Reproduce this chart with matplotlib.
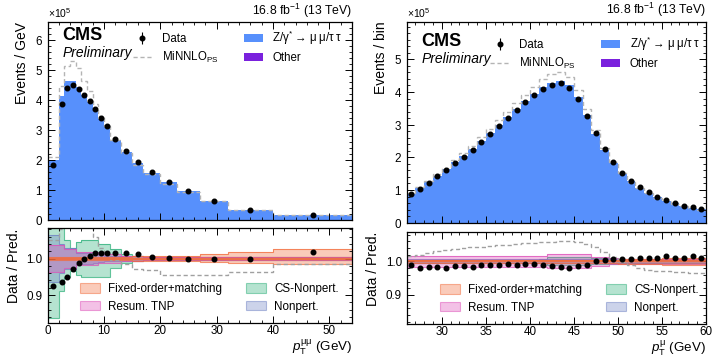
"""
CMS-style pT distributions (dimuon and single muon) with ratio panels.
"""
import numpy as np
import matplotlib
matplotlib.use("Agg")
import matplotlib.pyplot as plt
import matplotlib.ticker as mticker
from matplotlib.patches import Patch
from matplotlib.lines import Line2D

plt.rcParams["font.family"] = ["Liberation Sans", "DejaVu Sans"]
plt.rcParams["mathtext.fontset"] = "custom"
plt.rcParams["mathtext.rm"] = "Liberation Sans"
plt.rcParams["mathtext.it"] = "Liberation Sans:italic"
plt.rcParams["mathtext.bf"] = "Liberation Sans:bold"

# ----------------------------------------------------------------------
# Data: left panel, pT(mumu)
# ----------------------------------------------------------------------
edges_ll = [0, 2, 3, 4, 5, 6, 7, 8, 9, 10, 11, 13, 15, 17, 20, 23, 27, 32, 40, 54]
pred_ll = [1.99e5, 4.15e5, 4.63e5, 4.65e5, 4.44e5, 4.18e5, 3.94e5, 3.66e5, 3.36e5,
           3.10e5, 2.68e5, 2.26e5, 1.91e5, 1.58e5, 1.27e5, 0.97e5, 0.65e5, 0.35e5, 0.155e5]
ratio_ll = [0.925, 0.935, 0.950, 0.972, 0.987, 1.000, 1.006, 1.014, 1.014, 1.014,
            1.015, 1.014, 1.012, 1.005, 1.001, 0.999, 0.998, 0.998, 1.018]
minnlo_ll = [1.050, 1.080, 1.110, 1.140, 1.140, 1.110, 1.090, 1.060, 1.030, 1.010,
             0.995, 0.985, 0.970, 0.968, 0.955, 0.955, 0.955, 0.963, 0.985]
# uncertainty bands (up / down half widths)
fo_up_ll = [0.004, 0.004, 0.004, 0.004, 0.004, 0.004, 0.004, 0.004, 0.004, 0.004,
            0.005, 0.005, 0.006, 0.006, 0.006, 0.006, 0.011, 0.018, 0.025]
fo_dn_ll = [0.004, 0.004, 0.004, 0.004, 0.004, 0.004, 0.004, 0.004, 0.004, 0.004,
            0.005, 0.005, 0.006, 0.006, 0.006, 0.007, 0.009, 0.012, 0.015]
tnp_ll = [0.036, 0.036, 0.025, 0.025, 0.019, 0.019, 0.019, 0.019, 0.012, 0.012,
          0.012, 0.007, 0.007, 0.005, 0.004, 0.004, 0.004, 0.004, 0.004]
cs_up_ll = [0.170, 0.170, 0.050, 0.030, 0.045, 0.050, 0.050, 0.050, 0.040, 0.040,
            0.025, 0.013, 0.008, 0.005, 0.004, 0.003, 0.003, 0.003, 0.003]
cs_dn_ll = [0.162, 0.090, 0.050, 0.035, 0.045, 0.050, 0.050, 0.050, 0.050, 0.050,
            0.025, 0.013, 0.008, 0.005, 0.004, 0.003, 0.003, 0.003, 0.003]
np_ll = [0.064, 0.040, 0.030, 0.030, 0.015, 0.015, 0.015, 0.012, 0.010, 0.008,
         0.008, 0.006, 0.006, 0.005, 0.005, 0.005, 0.005, 0.005, 0.005]

# ----------------------------------------------------------------------
# Data: right panel, pT(mu), 1 GeV bins from 26 to 60
# ----------------------------------------------------------------------
edges_mu = np.arange(26, 61)
pred_mu = [0.891e5, 1.061e5, 1.242e5, 1.443e5, 1.631e5, 1.846e5, 2.051e5, 2.261e5,
           2.497e5, 2.730e5, 2.990e5, 3.236e5, 3.492e5, 3.710e5, 3.942e5, 4.146e5,
           4.284e5, 4.344e5, 4.200e5, 3.838e5, 3.303e5, 2.727e5, 2.229e5, 1.835e5,
           1.518e5, 1.271e5, 1.070e5, 0.921e5, 0.792e5, 0.679e5, 0.594e5, 0.515e5,
           0.463e5, 0.406e5]
ratio_mu = [0.988, 0.980, 0.982, 0.984, 0.981, 0.986, 0.985, 0.982, 0.989, 0.989,
            0.990, 0.992, 0.988, 0.992, 0.992, 0.989, 0.985, 0.983, 0.981, 0.985,
            0.990, 1.001, 1.005, 1.008, 1.008, 1.007, 1.009, 1.010, 1.010, 1.016,
            1.010, 1.010, 1.016, 1.010]
minnlo_mu = [1.015, 1.020, 1.025, 1.030, 1.033, 1.037, 1.040, 1.042, 1.044, 1.046,
             1.048, 1.050, 1.052, 1.054, 1.056, 1.058, 1.059, 1.060, 1.060, 1.058,
             1.052, 1.042, 1.028, 1.012, 0.998, 0.988, 0.980, 0.975, 0.972, 0.970,
             0.968, 0.967, 0.966, 0.966]
fo_mu = [0.004, 0.004, 0.004, 0.004, 0.004, 0.004, 0.004, 0.004, 0.004, 0.004,
         0.004, 0.004, 0.004, 0.004, 0.005, 0.005, 0.005, 0.005, 0.005, 0.005,
         0.005, 0.005, 0.005, 0.005, 0.007, 0.007, 0.007, 0.007, 0.007, 0.010,
         0.010, 0.010, 0.010, 0.010]
tnp_mu = [0.017, 0.017, 0.017, 0.017, 0.017, 0.017, 0.017, 0.017, 0.017, 0.017,
          0.017, 0.017, 0.017, 0.017, 0.017, 0.017, 0.021, 0.021, 0.021, 0.021,
          0.021, 0.014, 0.014, 0.009, 0.008, 0.008, 0.008, 0.008, 0.008, 0.008,
          0.008, 0.008, 0.008, 0.008]
cs_mu = [0.004, 0.004, 0.004, 0.004, 0.004, 0.004, 0.004, 0.004, 0.004, 0.004,
         0.004, 0.004, 0.004, 0.004, 0.004, 0.006, 0.012, 0.012, 0.012, 0.012,
         0.012, 0.009, 0.009, 0.009, 0.004, 0.004, 0.004, 0.004, 0.004, 0.004,
         0.004, 0.004, 0.004, 0.004]
np_mu = [0.006] * 34

# ----------------------------------------------------------------------
# Style
# ----------------------------------------------------------------------
BLUE = "#5790fc"
PURPLE = "#7a21dd"
GRAY = "#b4b4b4"
BANDS = {
    "fo": ("#f26b3a", "Fixed-order+matching"),
    "tnp": ("#dd4eb8", "Resum. TNP"),
    "cs": ("#2caf79", "CS-Nonpert."),
    "np": ("#6f82c4", "Nonpert."),
}
FILL_ALPHA = 0.35
LEG_FS = 8.3
RLEG_FS = 8.4
LABEL_FS = 10.0
XLABEL_FS = 9.6
TICK_FS = 8.4


def style_axis(ax):
    ax.tick_params(which="both", direction="in", top=True, right=True,
                   labelsize=TICK_FS)
    ax.tick_params(which="major", length=5, width=0.7)
    ax.tick_params(which="minor", length=2.5, width=0.6)
    ax.tick_params(axis="x", pad=1.2)
    ax.xaxis.set_minor_locator(mticker.AutoMinorLocator())
    ax.yaxis.set_minor_locator(mticker.AutoMinorLocator())
    for s in ax.spines.values():
        s.set_linewidth(0.9)


def draw_band(ax, edges, up, dn, key):
    col = BANDS[key][0]
    hi = 1 + np.asarray(up)
    lo = 1 - np.asarray(dn)
    ax.stairs(hi, edges, baseline=lo, fill=True, color=col, alpha=FILL_ALPHA, lw=0)
    ax.stairs(hi, edges, baseline=None, color=col, alpha=0.75, lw=0.8)
    ax.stairs(lo, edges, baseline=None, color=col, alpha=0.75, lw=0.8)


def draw_panel(fig, rect_top, rect_rat, edges, pred, ratio, minnlo, bands,
               xlim, ylim, yticks, rlim, ylabel, xlabel, leg_top_y, rleg_x):
    edges = np.asarray(edges, dtype=float)
    centers = 0.5 * (edges[1:] + edges[:-1])
    pred = np.asarray(pred)
    data = pred * np.asarray(ratio)
    mnl = pred * np.asarray(minnlo)

    ax = fig.add_axes(rect_top)
    rax = fig.add_axes(rect_rat, sharex=ax)

    # --- main panel ---
    ax.stairs(pred, edges, fill=True, color=BLUE, lw=0)
    ax.stairs(mnl, edges, baseline=None, color=GRAY, ls=(0, (3, 2)), lw=1.0)
    eb = ax.errorbar(centers, data, yerr=np.zeros_like(data), fmt="o",
                     color="black", ms=3.3, elinewidth=0.8, capsize=0)
    ax.set_xlim(*xlim)
    ax.set_ylim(*ylim)
    style_axis(ax)
    fmt = mticker.ScalarFormatter(useMathText=True)
    fmt.set_powerlimits((0, 0))
    ax.yaxis.set_major_locator(mticker.FixedLocator(yticks))
    ax.yaxis.set_major_formatter(fmt)
    ax.yaxis.get_offset_text().set_fontsize(7.5)
    ax.tick_params(axis="x", labelbottom=False)
    ax.set_ylabel(ylabel, fontsize=LABEL_FS, loc="top")

    ax.text(0.05, leg_top_y + 0.008, "CMS", transform=ax.transAxes, fontsize=13,
            fontweight="bold", va="top", ha="left")
    ax.text(0.05, leg_top_y - 0.085, "Preliminary", transform=ax.transAxes,
            fontsize=10, style="italic", va="top", ha="left")
    ax.text(1.0, 1.012, "16.8 fb$^{-1}$ (13 TeV)", transform=ax.transAxes,
            fontsize=8.8, ha="right", va="bottom")

    handles = [
        eb,
        Line2D([], [], color=GRAY, ls=(0, (3, 2)), lw=1.0),
        Patch(facecolor=BLUE, edgecolor="none"),
        Patch(facecolor=PURPLE, edgecolor="none"),
    ]
    labels = ["Data", "MiNNLO$_\\mathrm{PS}$",
              "Z/γ$^{*}$ → μ\u2009μ/τ\u2009τ", "Other"]
    ax.legend(handles, labels, ncol=2, frameon=False, fontsize=LEG_FS,
              loc="upper left", bbox_to_anchor=(0.28, leg_top_y),
              borderaxespad=0, borderpad=0, handlelength=1.65,
              handletextpad=0.85, columnspacing=2.2, labelspacing=0.45)

    # --- ratio panel ---
    draw_band(rax, edges, bands["cs"][0], bands["cs"][1], "cs")
    draw_band(rax, edges, bands["np"][0], bands["np"][1], "np")
    draw_band(rax, edges, bands["tnp"][0], bands["tnp"][1], "tnp")
    draw_band(rax, edges, bands["fo"][0], bands["fo"][1], "fo")
    rax.axhline(1.0, color=BANDS["fo"][0], lw=1.2)
    rax.stairs(minnlo, edges, baseline=None, color="#a0a0a0", ls=(0, (3, 2)), lw=1.0)
    rax.plot(centers, ratio, "o", color="black", ms=3.3)
    rax.set_ylim(*rlim)
    style_axis(rax)
    rax.yaxis.set_major_locator(mticker.MultipleLocator(0.1))
    rax.yaxis.set_major_formatter(mticker.FormatStrFormatter("%.1f"))
    rax.set_ylabel("Data / Pred.", fontsize=LABEL_FS, loc="top")
    rax.set_xlabel(xlabel, fontsize=XLABEL_FS, loc="right", labelpad=0.5)

    bh = [Patch(facecolor=matplotlib.colors.to_rgba(BANDS[k][0], FILL_ALPHA),
                edgecolor=matplotlib.colors.to_rgba(BANDS[k][0], 0.5), lw=0.8)
          for k in ("fo", "tnp", "cs", "np")]
    bl = [BANDS[k][1] for k in ("fo", "tnp", "cs", "np")]
    rax.legend(bh, bl, ncol=2, frameon=False, fontsize=RLEG_FS, loc="lower left",
               bbox_to_anchor=(rleg_x, 0.11), borderaxespad=0, borderpad=0,
               handlelength=1.7, handleheight=0.85, handletextpad=0.68,
               columnspacing=2.1, labelspacing=0.5)
    fig.align_ylabels([ax, rax])
    return ax, rax


W, H = 714, 357
fig = plt.figure(figsize=(W / 100, H / 100), dpi=100)


def rect(x0, y0, x1, y1):
    return [x0 / W, 1 - y1 / H, (x1 - x0) / W, (y1 - y0) / H]


bands_ll = {"fo": (fo_up_ll, fo_dn_ll), "tnp": (tnp_ll, tnp_ll),
            "cs": (cs_up_ll, cs_dn_ll), "np": (np_ll, np_ll)}
bands_mu = {"fo": (fo_mu, fo_mu), "tnp": (tnp_mu, tnp_mu),
            "cs": (cs_mu, cs_mu), "np": (np_mu, np_mu)}

yt_ll = [0, 1e5, 2e5, 3e5, 4e5, 5e5, 6e5]
yt_mu = [0, 1e5, 2e5, 3e5, 4e5, 5e5]

draw_panel(fig, rect(47.5, 22, 352, 220), rect(47.5, 228.5, 352, 323.3),
           edges_ll, pred_ll, ratio_ll, minnlo_ll, bands_ll,
           (0, 54), (0, 6.61e5), yt_ll, (0.823, 1.082), "Events / GeV",
           "$p_\\mathrm{T}^\\mathrm{μμ}$ (GeV)", 0.965, 0.107)
draw_panel(fig, rect(406.7, 21.7, 705.7, 222.7), rect(406.7, 232, 705.7, 324),
           edges_mu, pred_mu, ratio_mu, minnlo_mu, bands_mu,
           (26, 60), (0, 6.15e5), yt_mu, (0.813, 1.088), "Events / bin",
           "$p_\\mathrm{T}^\\mathrm{μ}$ (GeV)", 0.935, 0.111)

fig.savefig("out.png", dpi=100)
